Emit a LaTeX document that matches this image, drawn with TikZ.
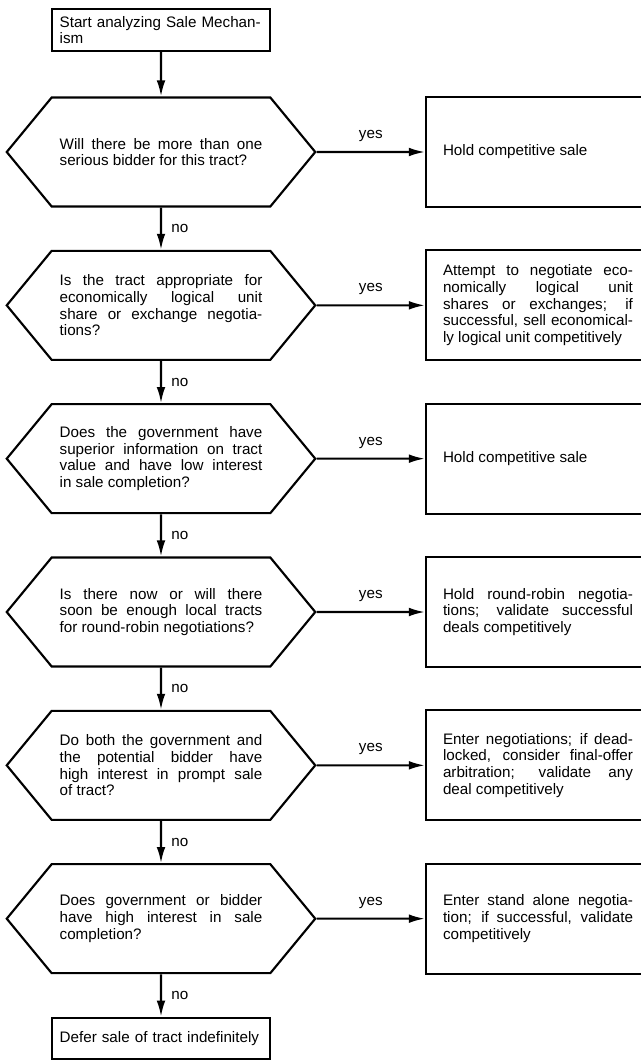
\documentclass[tikz,border=0pt]{standalone}
\usepackage{fontspec}
\setmainfont{Liberation Sans}
\usepackage{tikz}
\usetikzlibrary{positioning,shapes.symbols,arrows.meta}

\tikzset{
  decision/.style={signal, signal to=east and west, signal pointer angle=101,
    draw, line width=1.6pt, text width=152pt, inner xsep=6pt, inner ysep=0pt,
    minimum height=81.75pt, align=justify},
  action/.style={rectangle, draw, line width=1.6pt, text width=142.5pt,
    minimum width=168pt, minimum height=82.5pt, align=justify},
  terminal/.style={rectangle, draw, line width=1.6pt, text width=152pt,
    minimum width=163pt, minimum height=31pt, align=left},
  tag/.style={inner sep=7pt}
}

\begin{document}
\begin{tikzpicture}[>={Latex[length=12pt,width=6.5pt]}, line width=1.6pt,
  node distance=115pt and 282.75pt, on grid, auto,
  every node/.style={font=\fontsize{11.4}{12.5}\selectfont}]
 \useasboundingbox (-120.75pt,-772.5pt) rectangle (359.25pt,22.5pt);

 \node[terminal] (start) at (0,0) {Start analyzing Sale Mechan-\\ism};
 \node[decision] (d_1) [below=91.5pt of start] {Will there be more than one\linebreak serious bidder for this tract?};
 \node[decision] (d_2) [below=of d_1] {Is the tract appropriate for\linebreak economically logical unit\linebreak share or exchange negotia-\linebreak tions?};
 \node[decision] (d_3) [below=of d_2] {Does the government have\linebreak superior information on tract\linebreak value and have low interest\linebreak in sale completion?};
 \node[decision] (d_4) [below=of d_3] {Is there now or will there\linebreak soon be enough local tracts\linebreak for round-robin negotiations?};
 \node[decision] (d_5) [below=of d_4] {Do both the government and\linebreak the potential bidder have\linebreak high interest in prompt sale\linebreak of tract?};
 \node[decision] (d_6) [below=of d_5] {Does government or bidder\linebreak have high interest in sale\linebreak completion?};
 \node[terminal] (defer) [below=89.8pt of d_6] {Defer sale of tract indefinitely};

 \node[action] (a_1) [right=of d_1] {Hold competitive sale};
 \node[action] (a_2) [right=of d_2] {Attempt to negotiate eco-\linebreak nomically logical unit\linebreak shares or exchanges; if\linebreak successful, sell economical-\linebreak ly logical unit competitively};
 \node[action] (a_3) [right=of d_3] {Hold competitive sale};
 \node[action] (a_4) [right=of d_4] {Hold round-robin negotia-\linebreak tions; validate successful\linebreak deals competitively};
 \node[action] (a_5) [right=of d_5] {Enter negotiations; if dead-\linebreak locked, consider final-offer\linebreak arbitration; validate any\linebreak deal competitively};
 \node[action] (a_6) [right=of d_6] {Enter stand alone negotia-\linebreak tion; if successful, validate\linebreak competitively};

 \path[->]
 (start) edge (d_1)
 (d_1) edge node[tag] {yes} (a_1) edge node[tag] {no} (d_2)
 (d_2) edge node[tag] {yes} (a_2) edge node[tag] {no} (d_3)
 (d_3) edge node[tag] {yes} (a_3) edge node[tag] {no} (d_4)
 (d_4) edge node[tag] {yes} (a_4) edge node[tag] {no} (d_5)
 (d_5) edge node[tag] {yes} (a_5) edge node[tag] {no} (d_6)
 (d_6) edge node[tag] {yes} (a_6) edge node[tag] {no} (defer)
 ;
\end{tikzpicture}
\end{document}
